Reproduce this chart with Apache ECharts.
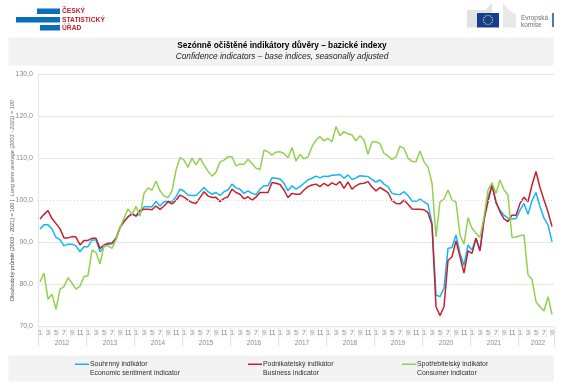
<!DOCTYPE html>
<html>
<head>
<meta charset="utf-8">
<style>
html, body { margin: 0; padding: 0; background: #fff; }
#chart { width: 561px; height: 391px; }
</style>
<script src="https://cdn.jsdelivr.net/npm/echarts@6/dist/echarts.min.js"></script>
</head>
<body>
<div id="chart"></div>
<script>
const years = [2012, 2013, 2014, 2015, 2016, 2017, 2018, 2019, 2020, 2021, 2022];
const monthsLastYear = 9;
const yTicks = { min: 70, max: 130, step: 10 };

const sentiment = [
    93.2, 94.2, 94.2, 93.2, 91.2, 90.7, 89.2, 89.6, 89.6, 89.2,
    87.8, 89, 89, 90.6, 90.6, 87.8, 89, 89.6, 89.7, 90.7,
    93.6, 95, 96.1, 96.7, 96.3, 96.9, 98.5, 98.5, 98.5, 99.8,
    98.7, 99.7, 99.8, 99.7, 100.9, 102.7, 102.2, 101.3, 101.2, 101.2,
    102.1, 103.1, 102.1, 101.5, 101.9, 101.2, 102.1, 102.5, 103.9, 103,
    102.7, 101.7, 102.3, 101.7, 101.4, 102.7, 103.5, 103.5, 105.4, 105.3,
    105.1, 104.1, 102.3, 103.5, 102.7, 103.3, 104.1, 104.9, 105.3, 105.8,
    105.4, 105.8, 105.7, 106, 106.1, 106.2, 105.3, 106.1, 105, 105.4,
    105.9, 105.8, 105.7, 105, 104.4, 104.9, 103.9, 103.3, 101.7, 101.5,
    101.4, 102.1, 101.2, 99.9, 99.8, 100.3, 99.7, 99.1, 94.6, 77.5,
    77.1, 79.1, 88.6, 88.8, 91.8, 87.4, 84.6, 89.4, 88.2, 91,
    88.2, 95.4, 100.9, 103.6, 99.3, 97.7, 96.5, 95.8, 95.6, 95.7,
    97.7, 99.3, 96.7, 100, 101.9, 98.5, 95.8, 94.2, 90.2
];
const business = [
    95.6, 96.7, 97.6, 95.7, 94.5, 93.3, 91.1, 91.1, 91.4, 91.3,
    89.4, 90.5, 90.5, 91, 91, 88.6, 89.4, 89.8, 89.9, 91,
    93.6, 95, 96.1, 96.9, 96.3, 97.7, 97.9, 97.9, 97.8, 98.7,
    97.9, 98.7, 99.7, 99.2, 100, 101.3, 100.8, 100.1, 99.5, 99.3,
    100.7, 102.1, 101.1, 100.7, 100.8, 99.7, 100.5, 100.9, 102.7, 101.9,
    101.5, 100.4, 100.9, 100.1, 100.8, 101.9, 101.9, 101.9, 104.3, 104.1,
    103.8, 102.5, 100.7, 101.7, 101.5, 101.5, 102.5, 103.3, 103.7, 103.9,
    103.3, 104.1, 103.5, 104.2, 103.7, 104.5, 102.9, 104.4, 102.7, 103.5,
    104, 104.1, 104.5, 103.2, 102.3, 103.1, 102.5, 101.9, 100, 99.3,
    99.2, 100.1, 99.1, 98, 97.9, 97.9, 97.8, 97.1, 94.2, 74.7,
    72.6, 74.7, 85.7, 86.6, 90.4, 86.6, 82.7, 88, 87.4, 91,
    88, 95.4, 99.7, 103.7, 99.7, 97.3, 95.6, 95, 96.5, 96.5,
    99.3, 100.8, 99.7, 103.7, 106.9, 103.1, 100.1, 97.3, 93.8
];
const consumer = [
    80.6, 82.7, 76.5, 77.7, 74.1, 78.9, 79.5, 81.6, 80.3, 78.9,
    79.6, 81.9, 82.1, 88.2, 87.6, 84.9, 89.2, 89.2, 88.6, 90.7,
    93.6, 95.7, 98, 96.7, 98.6, 96.3, 101.7, 103, 102.5, 104.6,
    102.3, 101.1, 100.7, 102.3, 107.2, 110.2, 109.6, 107.9, 110.1, 108.5,
    110.1, 108.5, 107, 105.8, 106.7, 109.2, 109.6, 110.4, 110.4, 108.2,
    108.7, 108.6, 109.8, 108.8, 107.7, 107.4, 112, 111.6, 110.8, 111.5,
    111.6, 111.2, 110.2, 112.6, 109.4, 111, 109.9, 110.4, 112.8, 114.4,
    115.2, 114.2, 114.8, 114, 117.6, 115.4, 116.4, 115.9, 115.6, 114.2,
    115.4, 114.4, 111, 113.9, 114, 113.5, 111.2, 110.6, 109.8, 110.4,
    112.9, 112.4, 110.1, 109.3, 109.2, 111.8, 109.2, 108, 104.1, 91.3,
    99.7, 100.3, 102.5, 100.1, 99.6, 91.8, 89.6, 95.9, 93.4, 92.2,
    91.2, 96.1, 102.5, 104.2, 101.7, 104.9, 102.5, 101.3, 91.2, 91.3,
    91.6, 91.8, 82.3, 81.2, 75.9, 74.7, 73.7, 77.1, 72.9
];

const nameSentiment = 'Souhrnný indikátor\nEconomic sentiment indicator';
const nameBusiness = 'Podnikatelský indikátor\nBusiness indicator';
const nameConsumer = 'Spotřebitelský indikátor\nConsumer indicator';

const font = '"Liberation Sans", Arial, sans-serif';
const grayText = '#8a8a8a';
const gridColor = '#e6e6e6';

// month and year labels, one entry per month
let monthCats = [], yearCats = [];
years.forEach(function (year, y) {
    let count = y === years.length - 1 ? monthsLastYear : 12;
    for (let m = 0; m < count; m++) {
        monthCats.push(String(m + 1));
        let middle = y === years.length - 1 ? 4 : 5;
        yearCats.push(m === middle ? String(year) : '');
    }
});

// eu flag stars
let flagStars = [];
for (let i = 0; i < 12; i++) {
    let a = i * Math.PI / 6;
    flagStars.push({
        type: 'circle',
        shape: { cx: 488 + Math.cos(a) * 4.6, cy: 20 + Math.sin(a) * 4.6, r: 0.7 },
        style: { fill: '#e8d82c' }
    });
}

function legendAt(left, name) {
    return {
        left: left, top: 360,
        data: [name],
        // line sits on the first text row, empty part of the path keeps the icon tall
        icon: 'path://M0,0H14V1.6H0Z M0,10H0.01V10.01H0Z',
        itemWidth: 14, itemHeight: 10, itemGap: 0,
        padding: 0,
        selectedMode: false,
        textStyle: { fontFamily: font, fontSize: 6.9, color: '#303030', lineHeight: 8.5, padding: [0, 0, 0, -4] }
    };
}

let chart = echarts.init(document.getElementById('chart'));
let option = {
    animation: false,
    backgroundColor: '#fff',
    title: {
        text: 'Sezónně očištěné indikátory důvěry – bazické indexy',
        subtext: 'Confidence indicators – base indices, seasonally adjusted',
        left: 282, top: 41.5, textAlign: 'center', padding: 0, itemGap: 2,
        textStyle: { fontFamily: font, fontSize: 8.3, fontWeight: 'bold', color: '#000', lineHeight: 9 },
        subtextStyle: { fontFamily: font, fontSize: 8.3, fontStyle: 'italic', color: '#222', lineHeight: 9 }
    },
    legend: [legendAt(75, nameSentiment), legendAt(248, nameBusiness), legendAt(402, nameConsumer)],
    grid: { left: 38, right: 7, top: 74.5, bottom: 64.5, outerBoundsMode: 'none' },
    xAxis: [
        {
            type: 'category', data: monthCats, position: 'bottom', boundaryGap: true,
            axisLine: { lineStyle: { color: gridColor } },
            axisTick: { show: true, interval: 0, length: 11, lineStyle: { color: '#eeeeee', width: 1 } },
            axisLabel: { interval: 1, fontFamily: font, fontSize: 6.5, color: grayText, margin: 3 }
        },
        {
            type: 'category', data: yearCats, position: 'bottom', boundaryGap: true,
            axisLine: { show: false },
            axisTick: {
                show: true,
                length: 20,
                interval: function (index) { return index % 12 === 0; },
                lineStyle: { color: '#e0e0e0', width: 1 }
            },
            axisLabel: {
                interval: 0, fontFamily: font, fontSize: 6.5, color: grayText, margin: 13,
                padding: [0, 0, 0, 4]
            }
        }
    ],
    yAxis: {
        type: 'value', min: yTicks.min, max: yTicks.max, interval: yTicks.step,
        axisLine: { show: true, lineStyle: { color: gridColor } },
        axisTick: { show: false },
        axisLabel: {
            margin: 5, fontFamily: font, fontSize: 7, color: grayText,
            formatter: function (v) { return v.toFixed(1).replace('.', ','); }
        },
        // 100 gets a dotted line from the markLine below
        splitLine: { lineStyle: { color: [gridColor, gridColor, gridColor, '#fff', gridColor, gridColor, gridColor] } },
        name: '{a|Dlouhodobý průměr (2003 - 2021) = 100 |} {b|Long term average (2003 - 2021) = 100}',
        nameLocation: 'middle', nameGap: 26, nameRotate: 90, nameMoveOverlap: false,
        nameTextStyle: {
            verticalAlign: 'middle',
            rich: {
                a: { fontFamily: font, fontSize: 5.5, color: '#444' },
                b: { fontFamily: font, fontSize: 5.5, color: '#666', fontStyle: 'italic' }
            }
        }
    },
    series: [
        {
            name: nameSentiment, type: 'line', data: sentiment, showSymbol: false, symbol: 'none',
            lineStyle: { color: '#14b5f4', width: 1.5 }, itemStyle: { color: '#14b5f4' },
            markLine: {
                silent: true, symbol: 'none', label: { show: false },
                lineStyle: { color: '#d8d8d8', type: [1, 2], width: 1 },
                data: [{ yAxis: 100 }]
            },
            z: 2
        },
        {
            name: nameBusiness, type: 'line', data: business, showSymbol: false, symbol: 'none',
            lineStyle: { color: '#c6202e', width: 1.5 }, itemStyle: { color: '#c6202e' }, z: 3
        },
        {
            name: nameConsumer, type: 'line', data: consumer, showSymbol: false, symbol: 'none',
            lineStyle: { color: '#92d050', width: 1.5 }, itemStyle: { color: '#92d050' }, z: 4
        }
    ],
    graphic: [
        // header and legend bands
        { type: 'rect', z: -10, shape: { x: 8.5, y: 37.5, width: 545, height: 28 }, style: { fill: '#f2f2f2', stroke: '#f8f8f8' } },
        { type: 'rect', z: -10, shape: { x: 8.5, y: 355.5, width: 545, height: 26 }, style: { fill: '#f2f2f2', stroke: '#f8f8f8' } },
        // statistics office logo
        { type: 'rect', shape: { x: 37, y: 8.5, width: 23, height: 5.5 }, style: { fill: '#0b6fb8' } },
        { type: 'rect', shape: { x: 16, y: 17, width: 44, height: 5.5 }, style: { fill: '#0b6fb8' } },
        { type: 'rect', shape: { x: 40, y: 25, width: 20, height: 5.5 }, style: { fill: '#0b6fb8' } },
        { type: 'text', x: 62, y: 7.5, style: { text: 'ČESKÝ', fill: '#c6202e', font: 'bold 6.7px ' + font } },
        { type: 'text', x: 62, y: 16.5, style: { text: 'STATISTICKÝ', fill: '#c6202e', font: 'bold 6.7px ' + font } },
        { type: 'text', x: 62, y: 24.5, style: { text: 'ÚŘAD', fill: '#c6202e', font: 'bold 6.7px ' + font } },
        // european commission logo
        { type: 'polygon', shape: { points: [[467, 10], [486, 10], [492, 3], [492, 13], [477, 13], [477, 27.5], [467, 27.5]] }, style: { fill: '#e2e2e2' } },
        { type: 'polygon', shape: { points: [[503, 3], [510, 11], [516, 14], [516, 27.5], [503, 27.5]] }, style: { fill: '#e8e8e8' } },
        { type: 'rect', shape: { x: 477, y: 13, width: 22, height: 14.5 }, style: { fill: '#123f94' } }
    ].concat(flagStars).concat([
        { type: 'text', x: 521, y: 15, style: { text: 'Evropská', fill: '#707070', font: '6.5px ' + font } },
        { type: 'text', x: 521, y: 22, style: { text: 'komise', fill: '#707070', font: '6.5px ' + font } },
        { type: 'rect', shape: { x: 552, y: 13, width: 2, height: 14 }, style: { fill: '#4a78c0' } }
    ])
};
chart.setOption(option);
</script>
</body>
</html>
